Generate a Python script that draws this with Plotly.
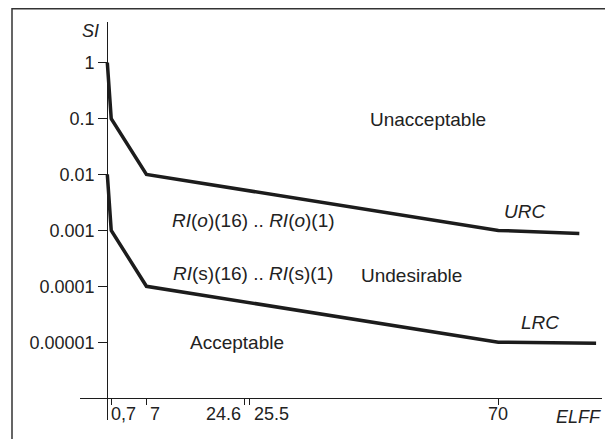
import plotly.graph_objects as go
import math

# ---- data ----
urc_x = [0, 0.7, 7, 70, 84.5]
urc_y = [1, 0.1, 0.01, 0.001, 0.00088]
lrc_x = [0, 0.7, 7, 70, 87.5]
lrc_y = [0.01, 0.001, 0.0001, 0.00001, 0.0000096]

y_tickvals = [1, 0.1, 0.01, 0.001, 0.0001, 0.00001]
y_ticktext = ["1", "0.1", "0.01", "0.001", "0.0001", "0.00001"]
x_tickvals = [0.7, 7, 24.6, 25.5, 70]
x_ticktext = ["0,7", "7", "24.6", "25.5", "70"]

# ---- layout geometry (page has an 8px default body margin) ----
W, H = 605, 431
ML, MR, MT, MB = 72, 11, 14, 19
PW, PH = W - ML - MR, H - MT - MB
x_range = [-4.89, 88.56]
y_range = [-6.392, 0.728]          # log10 units
x_cross = 0                          # y axis crosses at x = 0
y_cross = 1e-6                       # x axis crosses at SI = 1e-6

FONT = "Liberation Sans, Arial, sans-serif"
TXT = "#222222"
LINE = "#1c1c1c"
TICK_SIZE = 18
LABEL_SIZE = 19

fig = go.Figure()
fig.add_trace(go.Scatter(x=urc_x, y=urc_y, mode="lines",
                         line=dict(color=LINE, width=3.5), hoverinfo="skip"))
fig.add_trace(go.Scatter(x=lrc_x, y=lrc_y, mode="lines",
                         line=dict(color=LINE, width=3.5), hoverinfo="skip"))

ypos = (x_cross - x_range[0]) / (x_range[1] - x_range[0])
xpos = (math.log10(y_cross) - y_range[0]) / (y_range[1] - y_range[0])

fig.update_layout(
    width=W, height=H,
    margin=dict(l=ML, r=MR, t=MT, b=MB),
    paper_bgcolor="white", plot_bgcolor="white",
    showlegend=False,
    font=dict(family=FONT, size=TICK_SIZE, color=TXT),
    xaxis=dict(range=x_range, anchor="free", position=xpos,
               showgrid=False, zeroline=False, showline=True,
               linecolor=LINE, linewidth=1.2,
               ticks="outside", ticklen=6, tickwidth=1.2, tickcolor=LINE,
               tickvals=x_tickvals, showticklabels=False),
    yaxis=dict(type="log", range=y_range, anchor="free", position=ypos,
               showgrid=False, zeroline=False, showline=True,
               linecolor=LINE, linewidth=1.2,
               ticks="outside", ticklen=9, tickwidth=1.2, tickcolor=LINE,
               tickvals=y_tickvals, ticktext=y_ticktext,
               tickfont=dict(family=FONT, size=TICK_SIZE, color=TXT)),
)

# outer frame (left and top visible)
fig.add_shape(type="rect", xref="paper", yref="paper",
              x0=(4 - ML) / PW, x1=1 + (MR + 4) / PW,
              y0=-(MB + 4) / PH, y1=1 + (MT - 0.75) / PH,
              line=dict(color="#333333", width=1.5))

# x tick labels
lab_y = -6.28
anchors = ["left", "left", "right", "left", "center"]
shifts = [-2, 2, -2, 2, 0]
for v, t, a, s in zip(x_tickvals, x_ticktext, anchors, shifts):
    fig.add_annotation(x=v, y=lab_y, text=t, showarrow=False,
                       xanchor=a, yanchor="middle", xshift=s,
                       font=dict(family=FONT, size=TICK_SIZE, color=TXT))

def label(x, y, text, size=LABEL_SIZE):
    fig.add_annotation(x=x, y=y, text=text, showarrow=False,
                       xanchor="center", yanchor="middle",
                       font=dict(family=FONT, size=size, color=TXT))

label(-3.1, 0.57, "<i>SI</i>", TICK_SIZE)
label(84.3, -6.34, "<i>ELFF</i>", TICK_SIZE)
label(57.4, -1.025, "Unacceptable")
label(26.1, -2.83, "<i>RI</i>(<i>o</i>)(16) .. <i>RI</i>(<i>o</i>)(1)")
label(26.1, -3.78, "<i>RI</i>(s)(16) .. <i>RI</i>(s)(1)")
label(54.4, -3.80, "Undesirable")
label(23.2, -5.0, "Acceptable")
label(74.6, -2.67, "<i>URC</i>")
label(77.5, -4.64, "<i>LRC</i>")

fig.write_html("out.html")
